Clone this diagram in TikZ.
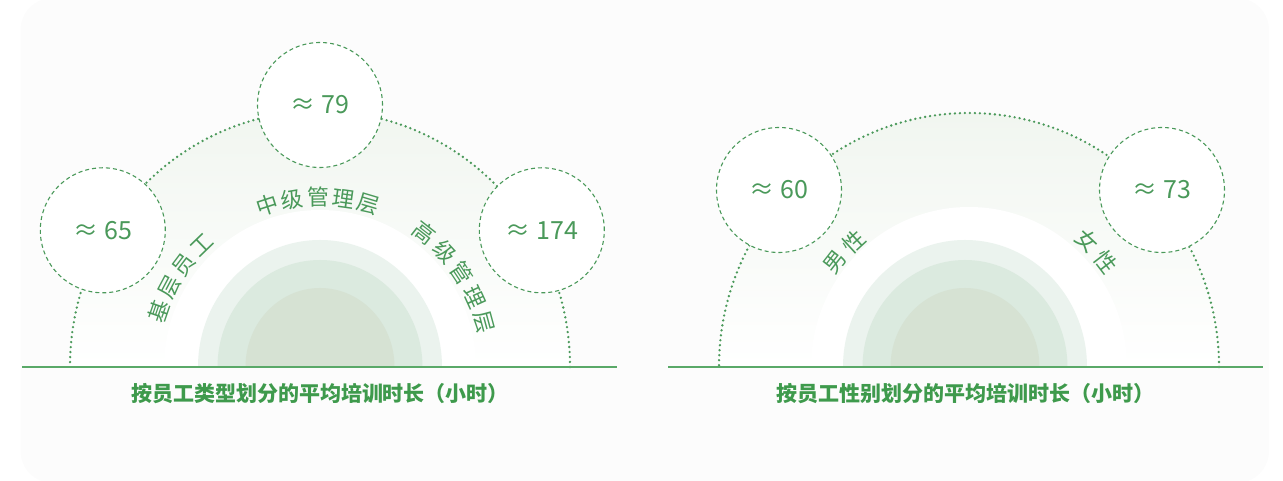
\documentclass[tikz,border=0pt]{standalone}
\usepackage{fontspec}
\setmainfont{Noto Sans CJK SC}
\definecolor{leafgreen}{HTML}{4A995A}
\definecolor{titlegreen}{HTML}{3E9A4C}
\definecolor{domefill}{HTML}{F1F6F0}
\definecolor{ringA}{HTML}{EBF3EE}
\definecolor{ringB}{HTML}{DBEADF}
\definecolor{ringC}{HTML}{D6E2D3}
\definecolor{panelgray}{HTML}{FCFCFC}
\definecolor{groundline}{HTML}{5AA968}
\tikzset{
  dotarc/.style={leafgreen,line width=2.6pt,line cap=round,dash pattern=on 0pt off 5pt},
  valcircle/.style={circle,draw=leafgreen,fill=white,line width=1.1pt,
    dash pattern=on 4pt off 3pt,minimum size=125pt,inner sep=0pt,
    font=\fontsize{25}{25}\selectfont,text=leafgreen},
  arclbl/.style={inner sep=0pt,font=\fontsize{22}{22}\selectfont,text=leafgreen},
  charttitle/.style={font=\fontsize{21}{21}\selectfont\bfseries,text=titlegreen},
}
% name, first angle, step, radius, characters
\newcommand{\arclabel}[5]{%
  \foreach \ch [count=\i from 0] in {#5}{%
    \pgfmathsetmacro{\ang}{#2-#3*\i}
    \node[arclbl,rotate=\ang-90] (#1\i) at (\ang:#4) {\ch};
  }}
% dome: shaded band, dotted rim, white hole
\newcommand{\dome}[4]{% rim x-radius, rim y-radius, hole x-radius, hole y-radius
  \shade[top color=domefill,bottom color=white] (#1,0) arc[start angle=0,end angle=180,x radius=#1,y radius=#2] -- cycle;
  \draw[dotarc] (#1,0) arc[start angle=0,end angle=180,x radius=#1,y radius=#2];
  \fill[white] (#3,0) arc[start angle=0,end angle=180,x radius=#3,y radius=#4] -- cycle;
}
\newcommand{\rings}{%
  \fill[ringA] (122,0) arc[start angle=0,end angle=180,x radius=122,y radius=127] -- cycle;
  \fill[ringB] (102.5,0) arc[start angle=0,end angle=180,x radius=102.5,y radius=107] -- cycle;
  \fill[ringC] (74.5,0) arc[start angle=0,end angle=180,x radius=74.5,y radius=79] -- cycle;
}

\begin{document}
\begin{tikzpicture}[x=1pt,y=1pt]
\useasboundingbox (0,0) rectangle (1283,481);
\fill[panelgray,rounded corners=32pt] (20.5,-2) rectangle (1269,483);

% by staff type
\begin{scope}[shift={(320,114)}]
\dome{250}{256}{156}{157}
\rings
\arclabel{base}{161}{9}{170}{基,层,员,工}
\arclabel{mid}{108}{8.65}{170}{中,级,管,理,层}
\arclabel{top}{52}{9.2}{170}{高,级,管,理,层}
\coordinate (gl) at (-298,0);
\coordinate (gr) at (297,0);
\draw[groundline,line width=1.4pt] (gl) -- (gr);
\node[valcircle] (vbase) at (-217.2,136.7) {≈ 65};
\node[valcircle] (vmid) at (0,262) {≈ 79};
\node[valcircle] (vtop) at (221.8,136.7) {≈ 174};
\node[charttitle] (ttype) at (0,-27) {按员工类型划分的平均培训时长（小时）};
\end{scope}

% by gender
\begin{scope}[shift={(969,114)}]
\dome{250}{254}{158}{160}
\begin{scope}[shift={(-4,0)}]
\rings
\end{scope}
\arclabel{male}{142}{9.5}{170}{男,性}
\arclabel{female}{47}{9.5}{173}{女,性}
\coordinate (hl) at (-301,0);
\coordinate (hr) at (294,0);
\draw[groundline,line width=1.4pt] (hl) -- (hr);
\node[valcircle] (vmale) at (-190,177) {≈ 60};
\node[valcircle] (vfemale) at (193,177) {≈ 73};
\node[charttitle] (tgender) at (-4,-27) {按员工性别划分的平均培训时长（小时）};
\end{scope}
\end{tikzpicture}
\end{document}
